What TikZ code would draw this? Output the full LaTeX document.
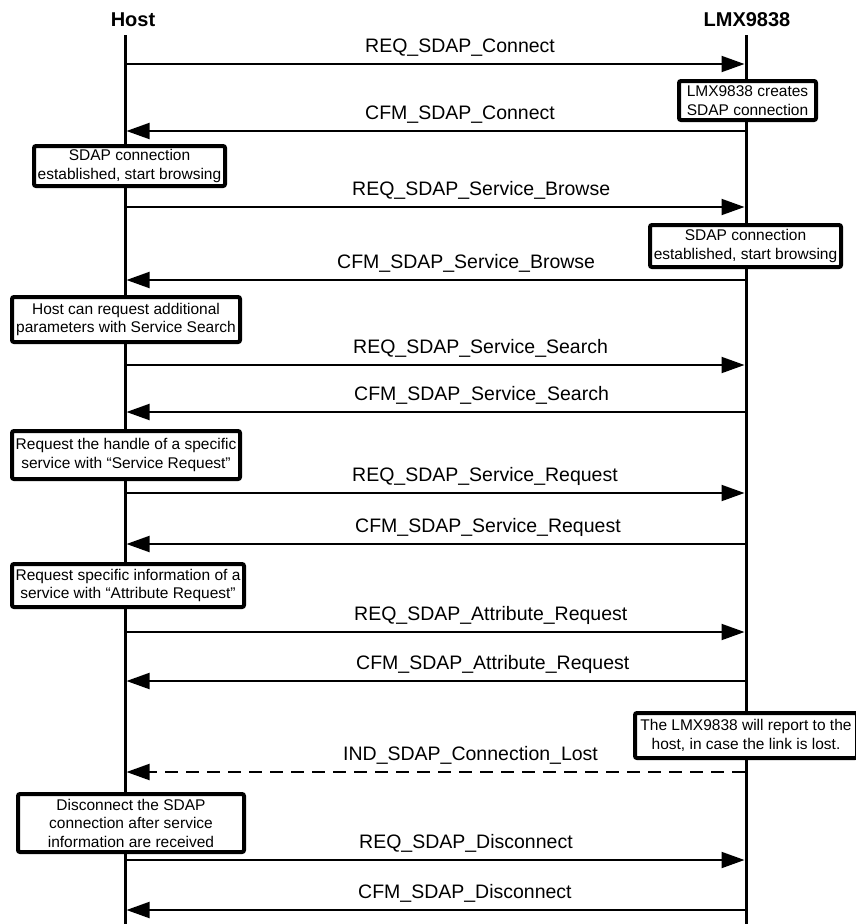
\documentclass[tikz,border=0pt]{standalone}
\usepackage{fontspec}
\setmainfont{Liberation Sans}
\usetikzlibrary{arrows.meta}
\begin{document}
\begin{tikzpicture}[x=1pt,y=-1pt,
  lifeline/.style={line width=3pt},
  msg/.style={line width=2pt,-{Triangle[length=23pt,width=16pt]}},
  lostmsg/.style={msg,dash pattern=on 13pt off 8pt},
  head/.style={font=\fontsize{20}{24}\selectfont\bfseries,anchor=base,inner sep=0pt},
  lbl/.style={font=\fontsize{19.5}{23}\selectfont,anchor=base west,inner sep=0pt},
  note/.style={draw,line width=4pt,rounded corners=2pt,fill=white,align=center,
    font=\fontsize{15.5}{18.5}\selectfont,inner sep=0pt}]
\useasboundingbox (0,0) rectangle (855,924);

% participants and lifelines
\node[head] (host) at (133,26) {Host};
\node[head] (lmx) at (747,26) {LMX9838};
\coordinate (hostTop) at (125,35);
\coordinate (hostBot) at (125,926);
\coordinate (lmxTop) at (746,35);
\coordinate (lmxBot) at (746,926);
\draw[lifeline] (hostTop) -- (hostBot);
\draw[lifeline] (lmxTop) -- (lmxBot);

% messages: index / y / label left edge / direction / text
\foreach \n/\y/\x/\dir/\txt in {
  1/64/365/r/REQ\_SDAP\_Connect,
  2/131/365/l/CFM\_SDAP\_Connect,
  3/207/352/r/REQ\_SDAP\_Service\_Browse,
  4/280/337/l/CFM\_SDAP\_Service\_Browse,
  5/365/353/r/REQ\_SDAP\_Service\_Search,
  6/412/354/l/CFM\_SDAP\_Service\_Search,
  7/493/352/r/REQ\_SDAP\_Service\_Request,
  8/544/355/l/CFM\_SDAP\_Service\_Request,
  9/632/354/r/REQ\_SDAP\_Attribute\_Request,
  10/681/356/l/CFM\_SDAP\_Attribute\_Request,
  12/860/359/r/REQ\_SDAP\_Disconnect,
  13/910/358/l/CFM\_SDAP\_Disconnect}{
  \coordinate (h\n) at (126.5,\y);
  \coordinate (l\n) at (744.5,\y);
  \node[lbl] (t\n) at (\x,\y-12) {\txt};
  \if r\dir
    \draw[msg] (h\n) -- (l\n);
  \else
    \draw[msg] (l\n) -- (h\n);
  \fi
}

% connection lost indication
\coordinate (h11) at (126.5,772);
\coordinate (l11) at (744.5,772);
\node[lbl] (t11) at (343,760) {IND\_SDAP\_Connection\_Lost};
\draw[lostmsg] (l11) -- (h11);

% notes
\node[note,minimum width=137,minimum height=39] (n1) at (747.5,100.5) {LMX9838 creates\\SDAP connection};
\node[note,minimum width=191,minimum height=40] (n2) at (129.5,166) {SDAP connection\\established, start browsing};
\node[note,minimum width=191,minimum height=42] (n3) at (745.5,246) {SDAP connection\\established, start browsing};
\node[note,minimum width=228,minimum height=45] (n4) at (126,319.5) {Host can request additional\\parameters with Service Search};
\node[note,minimum width=228,minimum height=48] (n5) at (126,455) {Request the handle of a specific\\service with “Service Request”};
\node[note,minimum width=232,minimum height=43] (n6) at (128,585.5) {Request specific information of a\\service with “Attribute Request”};
\node[note,minimum width=222,minimum height=45] (n7) at (746,735.5) {The LMX9838 will report to the\\host, in case the link is lost.};
\node[note,minimum width=226,minimum height=58] (n8) at (131,823) {Disconnect the SDAP\\connection after service\\information are received};
\end{tikzpicture}
\end{document}
